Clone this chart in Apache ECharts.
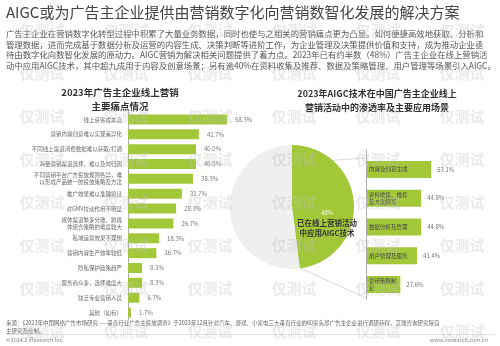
<!DOCTYPE html>
<html><head><meta charset="utf-8">
<script src="https://cdn.jsdelivr.net/npm/echarts@6/dist/echarts.min.js"></script>
<style>html,body{margin:0;padding:0;background:#fff}#c{width:500px;height:346px}</style>
</head><body><div id="c"></div>
<script>
const painCategories = ['线上获客成本高','营销内容创意难以实现差异化','不同线上渠道消费数据难以获取/打通','海量营销渠道选择，难以及时归因','不同营销平台广告投放规则各异，难\n以形成产品统一的投放策略及方法','推广效果难以准确验证','对GMV拉动作用不明显','媒体渠道繁多分散，跨媒\n体组合策略的难度较大','私域运营效果不理想','营销内容生产效率较低','隐私保护政策趋严','服务商众多，选择难度大','缺乏专业营销人员','其他（如有）'];
const painValues = [58.3,41.7,40.0,40.0,38.3,31.7,28.3,26.7,18.3,16.7,8.3,8.3,6.7,1.7];
const sceneCategories = ['内容及创意生成','资料收集、推荐\n及方案撰写','数据分析及管理','用户管理及服务','营销策略制\n定'];
const sceneValues = [53.1,44.8,44.8,41.4,27.6];
const penetrationValues = [48,52];
const penetrationNames = ['已在线上营销活动中应用AIGC技术','未应用'];

const GREEN = '#a2c83a';
const F = '"Noto Sans CJK SC","Noto Sans",sans-serif';
const chart = echarts.init(document.getElementById('c'), null, {renderer:'canvas'});

const wm = [];
const rows = [30,73,116,159,202,245,288,331];
const cols = [42,126,210,294,378,462];
rows.forEach(y=>cols.forEach(x=>wm.push({type:'text',x:x,y:y,z:100,silent:true,
  style:{text:'仅测试',font:'bold 15px '+F,fill:'rgba(190,190,190,0.33)',align:'center',verticalAlign:'middle'}})));

const para = '广告主企业在营销数字化转型过程中积累了大量业务数据，同时也使与之相关的营销痛点更为凸显。如何便捷高效地获取、分析和\n管理数据，进而完成基于数据分析及运营的内容生成、决策判断等进阶工作，为企业管理及决策提供价值和支持，成为推动企业亟\n待由数字化向数智化发展的原动力。AIGC营销为解决相关问题提供了着力点。2023年已有约半数（48%）广告主企业在线上营销活\n动中应用AIGC技术，其中超九成用于内容及创意场景；另有逾40%在资料收集及推荐、数据及策略管理、用户管理等场景引入AIGC。';

const T = (x,y,text,font,fill,align,lh)=>({type:'text',x:x,y:y,z:50,silent:true,
  style:{text:text,font:font,fill:fill,align:align||'left',verticalAlign:'top',lineHeight:lh}});

chart.setOption({
  backgroundColor:'#fff',
  animation:false,
  graphic:[
    T(6,5,'AIGC或为广告主企业提供由营销数字化向营销数智化发展的解决方案','15px '+F,'#444'),
    T(6,29,para,'8.4px '+F,'#555','left',10.4),
    T(120,85,'2023年广告主企业线上营销\n主要痛点情况','bold 9.5px '+F,'#333','center',14),
    T(377,87,'2023年AIGC技术在中国广告主企业线上\n营销活动中的渗透率及主要应用场景','bold 9px '+F,'#333','center',14),
    T(327,210,'48%','6px '+F,'#f4f4f4','center'),
    T(327,218,'已在线上营销活动\n中应用AIGC技术','bold 7.5px '+F,'#333','center',10),
    {type:'line',z:1,shape:{x1:250,y1:166,x2:366,y2:158},style:{stroke:'#d0d0d0',lineWidth:0.8}},
    {type:'line',z:1,shape:{x1:300,y1:268,x2:366,y2:298},style:{stroke:'#d0d0d0',lineWidth:0.8}},
    {type:'line',z:50,shape:{x1:366.5,y1:150,x2:366.5,y2:300},style:{stroke:'#999',lineWidth:0.8}},
    T(6,319,'来源：《2023年中国网络广告市场研究——垂直行业广告主投放调查》于2023年12月针对汽车、游戏、小家电三大垂直行业的60家头部广告主企业进行调研获得，艾瑞咨询研究院自\n主研究及绘制。','5.5px '+F,'#666','left',8),
    {type:'line',z:50,shape:{x1:6,y1:334.5,x2:494,y2:334.5},style:{stroke:'#ccc',lineWidth:0.6}},
    T(6,337,'©2024.3 iResearch Inc.','5.5px '+F,'#888'),
    T(488,337,'www.iresearch.com.cn','5.5px '+F,'#888','right')
  ].concat(wm),
  grid:[
    {left:128,top:112,width:170,height:208},
    {left:367,top:155,width:170,height:144}
  ],
  xAxis:[
    {gridIndex:0,type:'value',min:0,max:100,show:false},
    {gridIndex:1,type:'value',min:0,max:110,show:false}
  ],
  yAxis:[
    {gridIndex:0,type:'category',inverse:true,data:painCategories,axisTick:{show:false},
     axisLine:{lineStyle:{color:'#999',width:0.8}},
     axisLabel:{fontSize:5.5,color:'#666',fontFamily:F,margin:6,lineHeight:7}},
    {gridIndex:1,type:'category',inverse:true,data:sceneCategories,show:false}
  ],
  series:[
    {type:'bar',xAxisIndex:0,yAxisIndex:0,data:painValues,barWidth:10,itemStyle:{color:GREEN},
     label:{show:true,position:'right',formatter:p=>p.value.toFixed(1)+'%',fontSize:6,color:'#777',fontFamily:F,distance:8}},
    {type:'bar',xAxisIndex:1,yAxisIndex:1,data:sceneValues,barWidth:17,itemStyle:{color:GREEN},
     label:{show:true,position:'right',formatter:p=>p.value.toFixed(1)+'%',fontSize:6,color:'#777',fontFamily:F,distance:6}},
    {type:'bar',xAxisIndex:1,yAxisIndex:1,data:sceneValues,barWidth:17,barGap:'-100%',itemStyle:{color:'transparent'},
     label:{show:true,position:'insideLeft',formatter:p=>sceneCategories[p.dataIndex],fontSize:5.5,color:'#444',fontFamily:F,distance:2,lineHeight:7}},
    {type:'pie',center:[292,207],radius:62,startAngle:90,clockwise:true,silent:true,z:2,
     label:{show:false},labelLine:{show:false},
     data:penetrationValues.map((v,i)=>({value:v,name:penetrationNames[i],itemStyle:{color:i===0?GREEN:'#efefef'}}))}
  ]
});
</script></body></html>
